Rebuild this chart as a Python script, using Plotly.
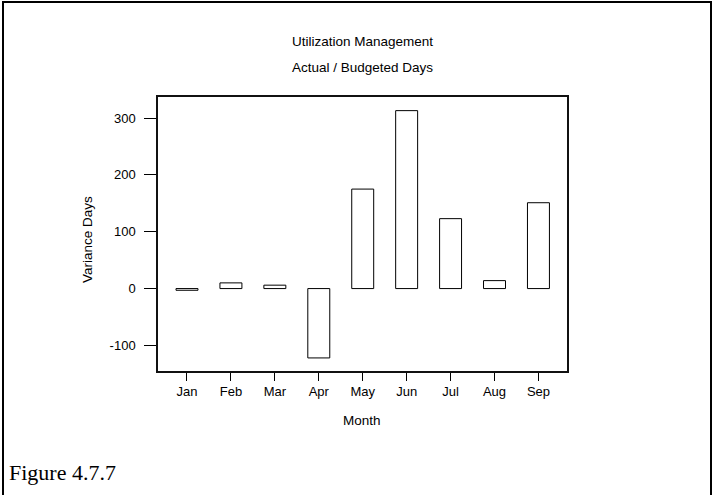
import plotly.graph_objects as go

# Monthly variance between actual and budgeted days
months = ["Jan", "Feb", "Mar", "Apr", "May", "Jun", "Jul", "Aug", "Sep"]
variance_days = [-3, 10, 6, -122, 175, 313, 123, 14, 151]
y_ticks = [-100, 0, 100, 200, 300]

W, H = 713, 495
L, R, T, B = 158, 146, 97, 124
pw, ph = W - L - R, H - T - B


def px_x(x):
    return (x - L) / pw


def px_y(y):
    return (H - B - y) / ph


font = dict(family="Liberation Sans, Arial, sans-serif", size=13.5, color="#000000")
tick_font = dict(family="Liberation Sans, Arial, sans-serif", size=13, color="#000000")


def label(text, x, y, angle=0, xanchor="center", f=font):
    return dict(text=text, x=px_x(x), y=px_y(y), xref="paper", yref="paper",
                xanchor=xanchor, yanchor="middle", textangle=angle,
                showarrow=False, font=f)


fig = go.Figure(
    go.Bar(
        x=list(range(len(months))),
        y=variance_days,
        width=0.5,
        marker=dict(color="#ffffff", line=dict(color="#000000", width=1)),
        hoverinfo="skip",
    )
)

axis_common = dict(
    ticks="outside",
    tickwidth=1,
    tickcolor="#000000",
    showline=True,
    linecolor="#111111",
    linewidth=1.5,
    mirror=True,
    showgrid=False,
    zeroline=False,
    tickfont=tick_font,
)

fig.update_layout(
    width=W,
    height=H,
    margin=dict(l=L, r=R, t=T, b=B),
    paper_bgcolor="#ffffff",
    plot_bgcolor="#ffffff",
    font=font,
    showlegend=False,
    xaxis=dict(
        range=[-0.66, 8.65],
        tickvals=list(range(len(months))),
        ticktext=months,
        ticklen=8,
        **axis_common,
    ),
    yaxis=dict(
        range=[-145, 337],
        tickvals=y_ticks,
        ticktext=[str(v) for v in y_ticks],
        ticklen=12,
        ticklabelstandoff=6,
        **axis_common,
    ),
    shapes=[
        dict(
            type="rect",
            xref="paper",
            yref="paper",
            x0=px_x(3),
            x1=px_x(711),
            y0=px_y(520),
            y1=px_y(2),
            line=dict(color="#000000", width=2),
            fillcolor="rgba(0,0,0,0)",
            layer="below",
        )
    ],
    annotations=[
        label("Utilization Management", 362, 41),
        label("Actual / Budgeted Days", 362, 68),
        label("Month", 362, 420),
        label("Variance Days", 87, 240, angle=-90),
        label("Figure 4.7.7", 7, 472, xanchor="left",
              f=dict(family="Liberation Serif, Times New Roman, serif",
                     size=22, color="#000000")),
    ],
)

fig.write_html("out.html")
